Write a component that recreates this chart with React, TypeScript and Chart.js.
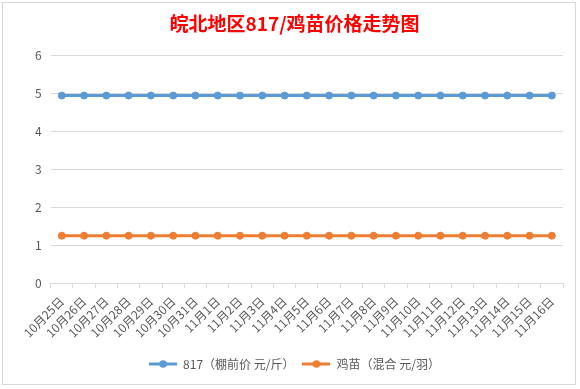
import React, { useEffect, useRef } from "react";
import { Chart, registerables } from "chart.js";

Chart.register(...registerables);

const TITLE = "皖北地区817/鸡苗价格走势图";
const categories = [
  "10月25日", "10月26日", "10月27日", "10月28日", "10月29日", "10月30日", "10月31日",
  "11月1日", "11月2日", "11月3日", "11月4日", "11月5日", "11月6日", "11月7日", "11月8日",
  "11月9日", "11月10日", "11月11日", "11月12日", "11月13日", "11月14日", "11月15日", "11月16日",
];
const seriesNames = ["817（棚前价 元/斤）", "鸡苗（混合 元/羽）"];
const price817 = [
  4.95, 4.95, 4.95, 4.95, 4.95, 4.95, 4.95, 4.95, 4.95, 4.95, 4.95, 4.95,
  4.95, 4.95, 4.95, 4.95, 4.95, 4.95, 4.95, 4.95, 4.95, 4.95, 4.95,
];
const priceChick = [
  1.25, 1.25, 1.25, 1.25, 1.25, 1.25, 1.25, 1.25, 1.25, 1.25, 1.25, 1.25,
  1.25, 1.25, 1.25, 1.25, 1.25, 1.25, 1.25, 1.25, 1.25, 1.25, 1.25,
];
const yTicks = [0, 1, 2, 3, 4, 5, 6];

const BLUE = "#5B9BD5";
const ORANGE = "#ED7D31";
const FONT = "'Noto Sans CJK SC', 'Microsoft YaHei', sans-serif";

function makeIcon(color: string): HTMLCanvasElement {
  const c = document.createElement("canvas");
  c.width = 28;
  c.height = 10;
  const ctx = c.getContext("2d")!;
  ctx.strokeStyle = color;
  ctx.lineWidth = 3;
  ctx.beginPath();
  ctx.moveTo(0, 5);
  ctx.lineTo(28, 5);
  ctx.stroke();
  ctx.fillStyle = color;
  ctx.beginPath();
  ctx.arc(14, 5, 3.8, 0, Math.PI * 2);
  ctx.fill();
  return c;
}

export default function App() {
  const ref = useRef<HTMLCanvasElement | null>(null);

  useEffect(() => {
    document.body.style.margin = "0";
    const icons = [makeIcon(BLUE), makeIcon(ORANGE)];
    const chart = new Chart(ref.current!, {
      type: "line",
      data: {
        labels: categories,
        datasets: [
          {
            label: seriesNames[0],
            data: price817,
            borderColor: BLUE,
            backgroundColor: BLUE,
            pointBackgroundColor: BLUE,
            pointBorderColor: BLUE,
            borderWidth: 3,
            pointRadius: 3.5,
            pointBorderWidth: 1,
            tension: 0,
          },
          {
            label: seriesNames[1],
            data: priceChick,
            borderColor: ORANGE,
            backgroundColor: ORANGE,
            pointBackgroundColor: ORANGE,
            pointBorderColor: ORANGE,
            borderWidth: 3,
            pointRadius: 3.5,
            pointBorderWidth: 1,
            tension: 0,
          },
        ],
      },
      options: {
        animation: false,
        responsive: false,
        maintainAspectRatio: false,
        layout: { padding: { left: 23, right: 12, top: 0, bottom: 4 } },
        plugins: {
          title: {
            display: true,
            text: TITLE,
            color: "#FF0000",
            font: { family: FONT, size: 19, weight: "bold" },
            padding: { top: 9, bottom: 21 },
          },
          legend: {
            position: "bottom",
            labels: {
              color: "#595959",
              font: { family: FONT, size: 12 },
              usePointStyle: true,
              pointStyleWidth: 28,
              padding: 8,
              generateLabels: (ch: any) => {
                const items = (Chart.defaults.plugins.legend.labels as any).generateLabels(ch);
                items.forEach((it: any, i: number) => {
                  it.pointStyle = icons[i];
                });
                return items;
              },
            },
          },
          tooltip: { enabled: false },
        },
        scales: {
          x: {
            offset: true,
            afterFit: (axis: any) => {
              axis.height += 4;
            },
            border: { display: true, color: "#D9D9D9", width: 1 },
            grid: {
              offset: true,
              drawOnChartArea: false,
              drawTicks: true,
              tickLength: 5,
              color: "#D9D9D9",
            },
            ticks: {
              color: "#595959",
              font: { family: FONT, size: 12 },
              minRotation: 45,
              maxRotation: 45,
              autoSkip: false,
              padding: 6,
            },
          },
          y: {
            min: 0,
            max: 6,
            afterBuildTicks: (axis: any) => {
              axis.ticks = yTicks.map((v) => ({ value: v }));
            },
            border: { display: false },
            grid: { color: "#D9D9D9", drawTicks: false },
            ticks: {
              color: "#595959",
              font: { family: FONT, size: 12 },
              padding: 9,
            },
          },
        },
      },
    });
    return () => chart.destroy();
  }, []);

  return (
    <div style={{ position: "fixed", left: 0, top: 0, width: 580, height: 389, background: "#fff" }}>
      <div
        style={{
          position: "absolute",
          left: 2,
          top: 2,
          width: 574,
          height: 383,
          boxSizing: "border-box",
          border: "1px solid #D9D9D9",
          background: "#fff",
        }}
      >
        <canvas ref={ref} width={572} height={381} style={{ display: "block", width: 572, height: 381 }} />
      </div>
    </div>
  );
}
